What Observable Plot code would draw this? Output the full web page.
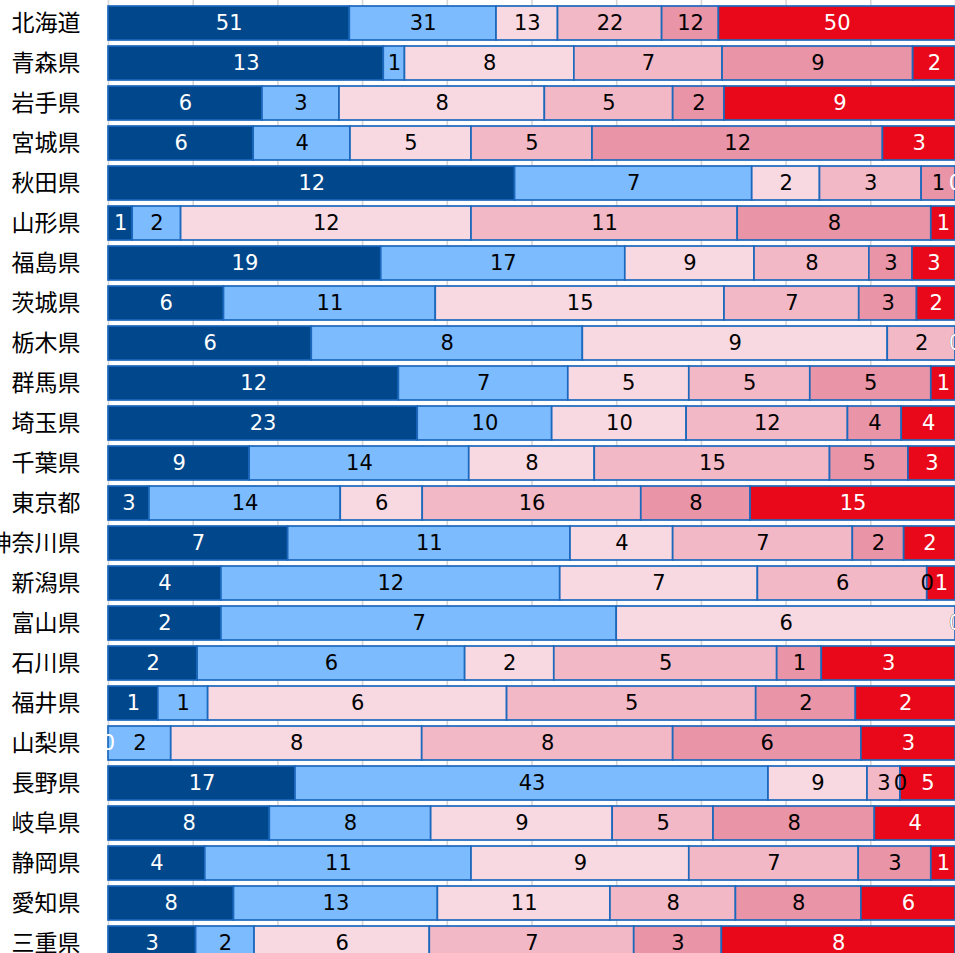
<!DOCTYPE html>
<html>
<head>
<meta charset="utf-8">
<script src="https://cdn.jsdelivr.net/npm/d3@7"></script>
<script src="https://cdn.jsdelivr.net/npm/@observablehq/plot@0.6"></script>
<style>
  html, body { margin: 0; padding: 0; background: #fff; overflow: hidden; }
  #chart { width: 955px; height: 953px; overflow: hidden; }
</style>
</head>
<body>
<div id="chart"></div>
<script>
const prefectures = ["北海道","青森県","岩手県","宮城県","秋田県","山形県","福島県","茨城県","栃木県","群馬県","埼玉県","千葉県","東京都","神奈川県","新潟県","富山県","石川県","福井県","山梨県","長野県","岐阜県","静岡県","愛知県","三重県"];
const categories = ["区分1","区分2","区分3","区分4","区分5","区分6"];
const series1 = [51,13,6,6,12,1,19,6,6,12,23,9,3,7,4,2,2,1,0,17,8,4,8,3];
const series2 = [31,1,3,4,7,2,17,11,8,7,10,14,14,11,12,7,6,1,2,43,8,11,13,2];
const series3 = [13,8,8,5,2,12,9,15,9,5,10,8,6,4,7,6,2,6,8,9,9,9,11,6];
const series4 = [22,7,5,5,3,11,8,7,2,5,12,15,16,7,6,0,5,5,8,3,5,7,8,7];
const series5 = [12,9,2,12,1,8,3,3,0,5,4,5,8,2,0,0,1,2,6,0,8,3,8,3];
const series6 = [50,2,9,3,0,1,3,2,0,1,4,3,15,2,1,0,3,2,3,5,4,1,6,8];
const barColors = ["#00478b","#7cbcfe","#f8d9e1","#f2b8c6","#e994a7","#e8081a"];
const textColors = ["#ffffff","#000000","#000000","#000000","#000000","#ffffff"];
const gridTicks = [0,0.1,0.2,0.3,0.4,0.5,0.6,0.7,0.8,0.9,1];

const allSeries = [series1, series2, series3, series4, series5, series6];
const data = [];
prefectures.forEach((p, i) => {
  categories.forEach((c, j) => {
    data.push({pref: p, cat: c, ci: j, value: allSeries[j][i]});
  });
});

const stackOpts = {offset: "normalize", x: "value", y: "pref", z: "cat"};

const chart = Plot.plot({
  width: 955,
  height: 953,
  marginLeft: 108,
  marginRight: 0,
  marginTop: 0,
  marginBottom: 0,
  style: {background: "#fff", color: "#000", fontFamily: "'DejaVu Sans', sans-serif"},
  x: {axis: null, domain: [0, 1]},
  y: {axis: null, domain: prefectures, range: [6, 959.5], paddingInner: 0.1625, paddingOuter: 0},
  color: {type: "identity"},
  marks: [
    Plot.gridX(gridTicks, {stroke: "#d6d6d6", strokeOpacity: 1, strokeWidth: 1.6}),
    Plot.barX(data, Plot.stackX({
      ...stackOpts,
      fill: d => barColors[d.ci],
      stroke: "#1c68bd",
      strokeWidth: 1.7
    })),
    Plot.textX(data, Plot.stackX({
      ...stackOpts,
      text: d => String(d.value),
      fill: d => textColors[d.ci],
      fontSize: 21,
      fontFamily: "'DejaVu Sans', sans-serif"
    })),
    Plot.axisY({
      tickSize: 0,
      tickPadding: 28,
      label: null,
      fontSize: 23,
      fontFamily: "'Noto Sans CJK JP', sans-serif",
      fill: "#000"
    })
  ]
});
document.getElementById("chart").appendChild(chart);
</script>
</body>
</html>
